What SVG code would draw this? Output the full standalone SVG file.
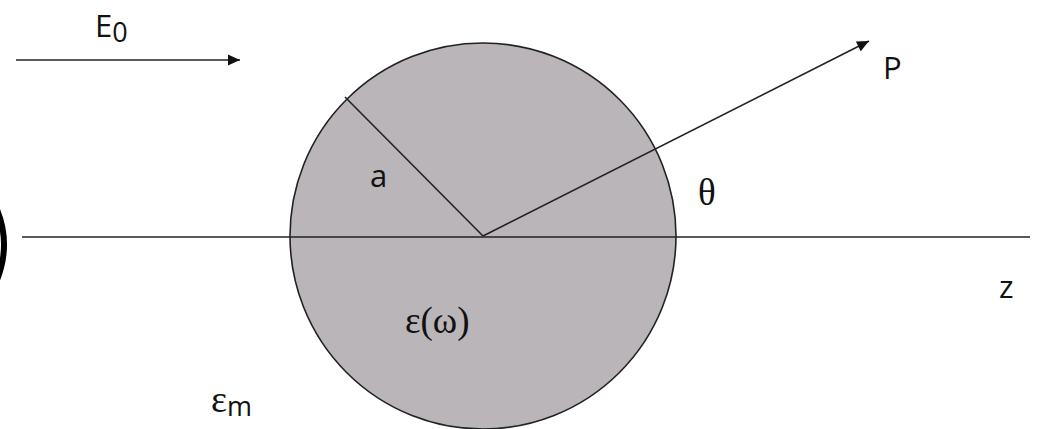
<svg xmlns="http://www.w3.org/2000/svg" width="1041" height="429" viewBox="0 0 1041 429">
<style>
.ln{stroke:#222;stroke-width:1.6;fill:none}
.t{font-family:"Open Sans","DejaVu Sans",sans-serif;font-size:31px;fill:#111}
.s{font-family:"Liberation Serif","DejaVu Serif",serif;font-size:37px;fill:#111}
</style>
<defs>
<marker id="ah" viewBox="0 0 10 10" refX="10" refY="5" markerWidth="17" markerHeight="12" markerUnits="userSpaceOnUse" orient="auto">
<path d="M0,0.5 L10,5 L0,9.5 Z" fill="#111"/>
</marker>
</defs>
<rect width="1041" height="429" fill="#fff"/>
<g id="sphere">
<circle cx="483" cy="236" r="193" fill="#b9b5b9" stroke="#222" stroke-width="1.6"/>
</g>
<g id="connectors">
<line class="ln" x1="22" y1="237" x2="1030" y2="237"/>
<line class="ln" x1="483" y1="236" x2="345" y2="97"/>
<line class="ln" x1="483" y1="236" x2="869" y2="41" marker-end="url(#ah)"/>
<line class="ln" x1="16" y1="60" x2="240" y2="60" marker-end="url(#ah)"/>
<path d="M-5,205 Q12,242 -3,280" stroke="#000" stroke-width="6" fill="none"/>
</g>
<g id="labels">
<text class="t" x="95" y="37">E<tspan style="font-size:27px" dy="5">0</tspan></text>
<text class="t" x="883" y="79">P</text>
<text class="t" x="370" y="187">a</text>
<text class="s" x="698" y="205">θ</text>
<text class="t" x="999" y="298">z</text>
<text class="s" x="405" y="333">ε(ω)</text>
<text class="s" x="211" y="412" style="font-size:38px">ε<tspan style="font-family:'Open Sans','DejaVu Sans',sans-serif;font-size:27px" dy="4">m</tspan></text>
</g>
</svg>
